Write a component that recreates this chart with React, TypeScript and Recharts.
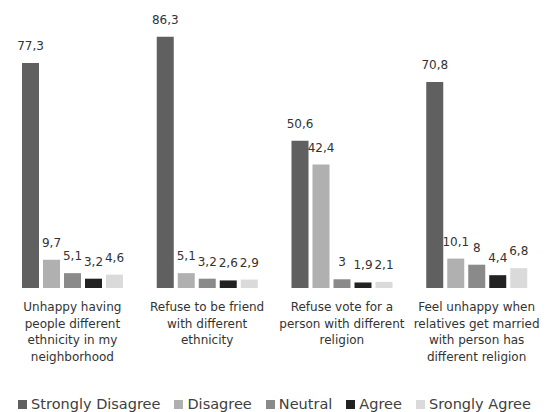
import { BarChart, Bar, XAxis, YAxis, Legend, LabelList } from "recharts";

// survey questions, one per group of bars ("\n" marks a line break in the tick)
const questions = [
  "Unhappy having\npeople different\nethnicity in my\nneighborhood",
  "Refuse to be friend\nwith different\nethnicity",
  "Refuse vote for a\nperson with different\nreligion",
  "Feel unhappy when\nrelatives get married\nwith person has\ndifferent religion",
];

// percentages per answer, in question order
const stronglyDisagree = [77.3, 86.3, 50.6, 70.8];
const disagree = [9.7, 5.1, 42.4, 10.1];
const neutral = [5.1, 3.2, 3, 8];
const agree = [3.2, 2.6, 1.9, 4.4];
const stronglyAgree = [4.6, 2.9, 2.1, 6.8];

const seriesNames = ["Strongly Disagree", "Disagree", "Neutral", "Agree", "Srongly Agree"];
const seriesKeys = ["sd", "d", "n", "a", "sa"];
const seriesColors = ["#606060", "#b0b0b0", "#8a8a8a", "#222222", "#dadada"];

const data = questions.map((q, i) => ({
  q,
  sd: stronglyDisagree[i],
  d: disagree[i],
  n: neutral[i],
  a: agree[i],
  sa: stronglyAgree[i],
}));

const FONT = "'DejaVu Sans', sans-serif";

const fmt = (v: any) => String(v).replace(".", ",");

function QuestionTick(props: any) {
  const { x, y, payload } = props;
  const lines = String(payload.value).split("\n");
  return (
    <text x={x} y={y} textAnchor="middle" fill="#333" fontSize={12} fontFamily={FONT}>
      {lines.map((line, i) => (
        <tspan key={i} x={x} dy={i === 0 ? 15 : 16.5}>
          {line}
        </tspan>
      ))}
    </text>
  );
}

function LegendRow() {
  return (
    <div
      style={{
        height: 16,
        display: "flex",
        justifyContent: "center",
        alignItems: "center",
        gap: 14,
        fontFamily: FONT,
        fontSize: 14.5,
        color: "#404040",
        whiteSpace: "nowrap",
      }}
    >
      {seriesNames.map((name, i) => (
        <span key={name} style={{ display: "flex", alignItems: "center", gap: 4 }}>
          <span style={{ width: 9, height: 9, background: seriesColors[i], display: "inline-block" }} />
          {name}
        </span>
      ))}
    </div>
  );
}

export default function App() {
  return (
    <div style={{ position: "absolute", left: 0, top: 0, background: "#fff" }}>
      <BarChart
        width={550}
        height={412}
        data={data}
        margin={{ top: 26, right: 6, bottom: 0, left: 5 }}
        barCategoryGap={17}
        barGap={4}
      >
        <XAxis
          dataKey="q"
          axisLine={false}
          tickLine={false}
          interval={0}
          height={108}
          tick={<QuestionTick />}
        />
        <YAxis hide domain={[0, 90]} />
        <Legend verticalAlign="bottom" content={() => <LegendRow />} />
        {seriesKeys.map((k, i) => (
          <Bar key={k} dataKey={k} name={seriesNames[i]} fill={seriesColors[i]} isAnimationActive={false}>
            <LabelList
              dataKey={k}
              position="top"
              offset={13}
              formatter={fmt}
              fill="#333"
              fontSize={12}
              fontFamily={FONT}
            />
          </Bar>
        ))}
      </BarChart>
    </div>
  );
}
